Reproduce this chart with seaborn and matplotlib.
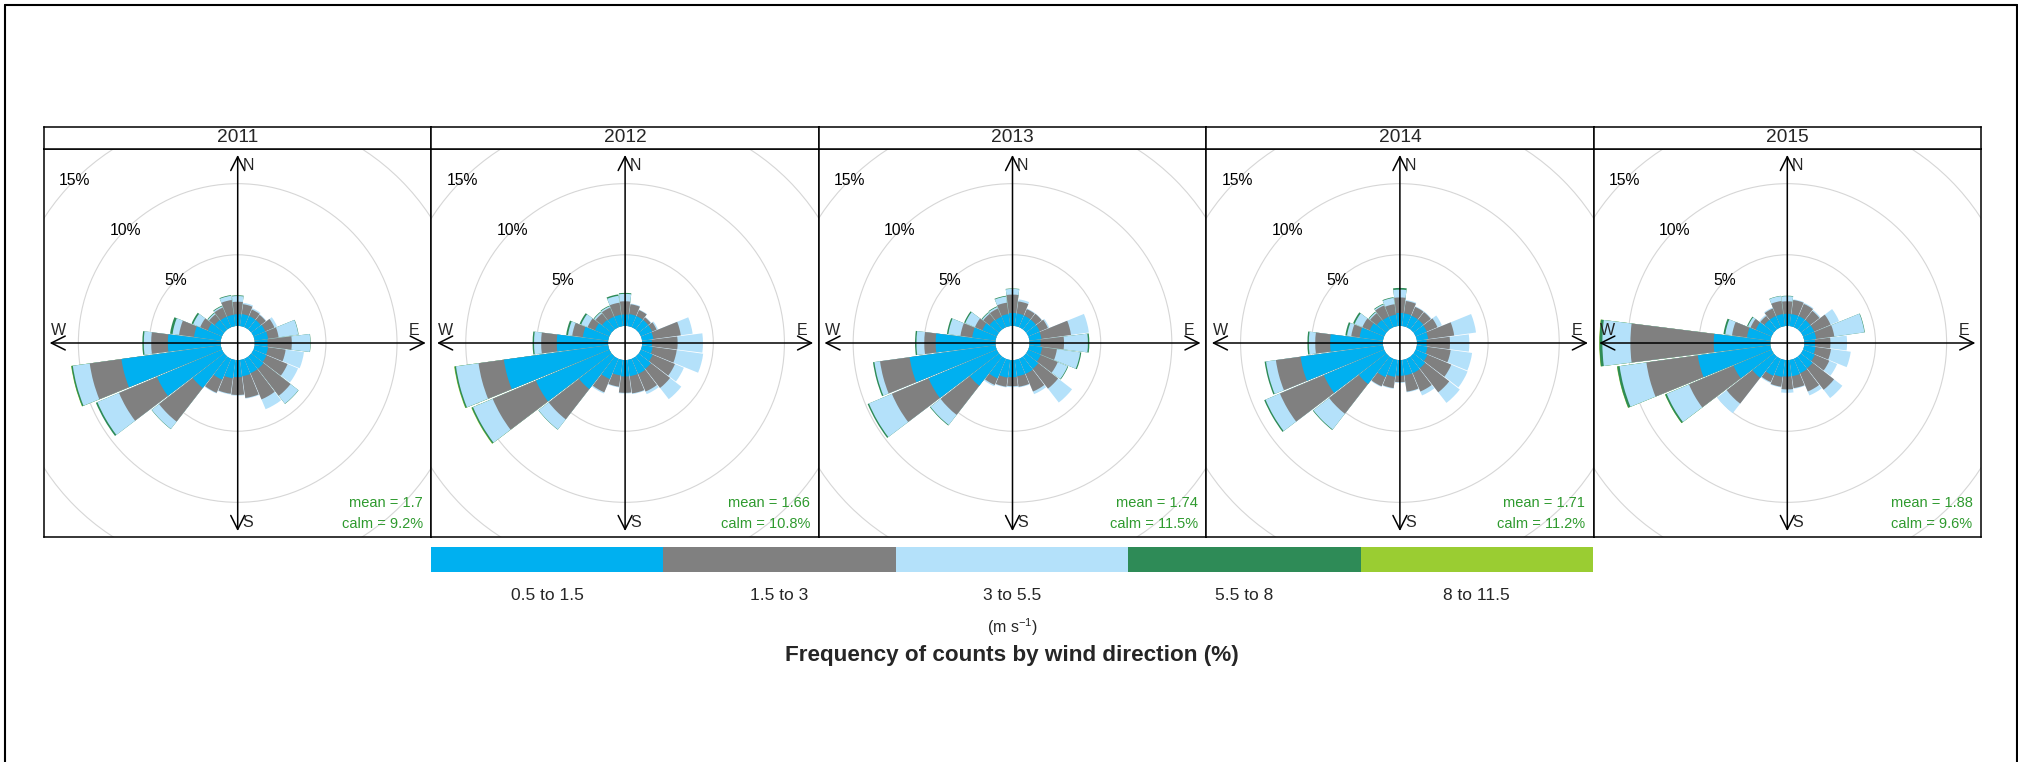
import numpy as np
import matplotlib
matplotlib.use("Agg")
import matplotlib.pyplot as plt
from matplotlib.patches import Wedge, Circle
from matplotlib.colors import ListedColormap
from matplotlib.lines import Line2D
import seaborn as sns

# ---------------------------------------------------------------- data
years = ["2011", "2012", "2013", "2014", "2015"]
directions = list(range(0, 360, 15))          # sector centres, degrees from north
speed_bins = ["0.5 to 1.5", "1.5 to 3", "3 to 5.5", "5.5 to 8", "8 to 11.5"]
mean_speed = ["1.7", "1.66", "1.74", "1.71", "1.88"]
calm_pct = ["9.2%", "10.8%", "11.5%", "11.2%", "9.6%"]
grid_levels = [5, 10, 15]

# frequency of counts (%) by direction, one list per speed bin
f2011_b1 = [0.82, 0.85, 0.85, 0.85, 0.90, 0.95, 0.90, 0.95, 1.00, 1.10, 1.10, 1.15, 1.20, 1.30, 1.60, 2.80, 4.95, 7.05, 3.71, 1.90, 1.08, 0.85, 0.80, 0.80]
f2011_b2 = [0.88, 0.70, 0.50, 0.45, 0.70, 0.75, 1.70, 1.25, 1.60, 2.40, 2.00, 1.55, 1.25, 1.10, 1.00, 3.00, 2.90, 2.25, 1.17, 1.06, 0.58, 0.50, 0.70, 1.05]
f2011_b3 = [0.40, 0.10, 0.10, 0.05, 0.20, 1.40, 1.30, 1.30, 0.80, 0.70, 0.75, 0.05, 0.05, 0.05, 0.05, 0.65, 1.65, 1.20, 0.52, 0.46, 0.54, 0.10, 0.10, 0.30]
f2011_b4 = [0.05, 0, 0, 0, 0, 0.02, 0.02, 0, 0, 0.02, 0, 0, 0, 0, 0, 0.02, 0.12, 0.10, 0.10, 0.18, 0.12, 0.05, 0.05, 0.05]
f2011_b5 = [0, 0, 0, 0, 0, 0, 0, 0, 0, 0, 0, 0, 0, 0, 0, 0, 0, 0.02, 0, 0, 0, 0, 0, 0]

f2012_b1 = [0.80, 0.85, 0.85, 0.85, 0.85, 0.80, 0.68, 0.75, 0.90, 1.10, 1.15, 1.15, 1.15, 1.10, 1.55, 2.90, 5.60, 7.40, 3.60, 1.80, 1.10, 0.85, 0.80, 0.80]
f2012_b2 = [0.93, 0.70, 0.46, 0.23, 0.35, 1.95, 1.81, 1.71, 1.70, 1.70, 1.35, 1.22, 1.15, 0.80, 1.01, 2.70, 3.30, 1.80, 1.10, 0.75, 0.56, 0.58, 0.70, 0.86]
f2012_b3 = [0.52, 0.05, 0.04, 0.04, 0.10, 0.84, 1.78, 1.88, 0.68, 1.00, 0.20, 0.05, 0.05, 0.05, 0.09, 0.90, 1.50, 1.60, 0.50, 0.30, 0.49, 0.12, 0.10, 0.49]
f2012_b4 = [0.07, 0, 0, 0, 0, 0, 0, 0, 0, 0, 0, 0, 0, 0, 0, 0.02, 0.10, 0.10, 0.10, 0.13, 0.12, 0.05, 0.05, 0.10]
f2012_b5 = [0, 0, 0, 0, 0, 0, 0, 0, 0, 0, 0, 0, 0, 0, 0, 0, 0.03, 0.03, 0, 0, 0, 0, 0, 0]

f2013_b1 = [0.91, 0.90, 0.88, 0.88, 0.88, 0.85, 0.77, 0.90, 0.95, 1.10, 1.15, 1.15, 1.20, 1.25, 1.50, 2.60, 5.20, 6.10, 4.20, 1.66, 1.10, 0.85, 0.80, 0.85]
f2013_b2 = [1.29, 0.85, 0.50, 0.52, 0.62, 2.10, 1.65, 1.05, 1.30, 1.76, 1.35, 0.75, 0.63, 0.65, 0.50, 2.60, 2.80, 2.10, 0.80, 0.83, 0.56, 0.55, 0.63, 0.81]
f2013_b3 = [0.40, 0.15, 0.05, 0.03, 0.10, 1.27, 1.68, 1.65, 0.75, 1.24, 0.20, 0.05, 0.07, 0.05, 0.10, 0.90, 1.75, 0.40, 0.55, 0.86, 0.74, 0.10, 0.12, 0.44]
f2013_b4 = [0.03, 0, 0, 0, 0, 0, 0.10, 0.08, 0.05, 0, 0, 0, 0, 0, 0, 0.05, 0.10, 0.10, 0.10, 0.10, 0.09, 0.05, 0.05, 0.05]
f2013_b5 = [0, 0, 0, 0, 0, 0, 0, 0, 0, 0, 0, 0, 0, 0, 0, 0, 0, 0, 0, 0, 0, 0, 0, 0]

f2014_b1 = [0.91, 0.90, 0.88, 0.88, 0.85, 0.80, 0.68, 0.75, 0.90, 1.05, 1.10, 1.10, 1.10, 1.20, 1.40, 2.45, 4.60, 5.85, 3.70, 1.66, 1.10, 0.85, 0.80, 0.80]
f2014_b2 = [1.09, 0.88, 0.67, 0.67, 0.81, 1.85, 1.64, 1.65, 1.82, 2.14, 1.40, 1.15, 0.45, 0.80, 0.70, 2.65, 3.35, 1.75, 1.05, 0.59, 0.56, 0.60, 0.86, 0.75]
f2014_b3 = [0.55, 0.07, 0.05, 0.05, 0.34, 1.55, 1.36, 1.52, 1.24, 0.94, 0.30, 0.05, 0.05, 0.05, 0.05, 1.40, 1.10, 0.70, 0.45, 0.30, 0.59, 0.10, 0.09, 0.45]
f2014_b4 = [0.12, 0, 0, 0, 0, 0, 0, 0, 0, 0, 0, 0, 0, 0, 0, 0.05, 0.10, 0.10, 0.10, 0.12, 0.12, 0.05, 0.05, 0.05]
f2014_b5 = [0, 0, 0, 0, 0, 0, 0, 0, 0, 0, 0, 0, 0, 0, 0, 0, 0, 0, 0, 0, 0, 0, 0, 0]

f2015_b1 = [0.85, 0.85, 0.85, 0.85, 0.85, 0.85, 0.75, 0.80, 0.90, 1.05, 1.10, 1.15, 1.15, 1.20, 1.30, 1.90, 2.90, 5.15, 3.97, 1.66, 1.20, 0.85, 0.85, 0.85]
f2015_b2 = [0.88, 1.00, 0.93, 0.81, 1.25, 1.28, 1.08, 1.10, 1.10, 1.91, 1.40, 0.85, 0.91, 0.70, 0.48, 2.30, 3.40, 3.65, 5.86, 1.06, 0.40, 0.35, 0.58, 0.93]
f2015_b3 = [0.36, 0.05, 0.07, 0.09, 0.65, 2.14, 1.17, 1.40, 0.60, 0.74, 0.30, 0.05, 0.24, 0.05, 0.07, 0.85, 1.70, 1.90, 1.97, 0.48, 0.20, 0.10, 0.07, 0.35]
f2015_b4 = [0.03, 0, 0, 0, 0, 0.03, 0, 0, 0, 0, 0, 0, 0, 0, 0, 0, 0.12, 0.17, 0.20, 0.13, 0.07, 0, 0, 0.02]
f2015_b5 = [0, 0, 0, 0, 0, 0, 0, 0, 0, 0, 0, 0, 0, 0, 0, 0, 0.01, 0.02, 0.02, 0, 0, 0, 0, 0]

freq = {
    "2011": [f2011_b1, f2011_b2, f2011_b3, f2011_b4, f2011_b5],
    "2012": [f2012_b1, f2012_b2, f2012_b3, f2012_b4, f2012_b5],
    "2013": [f2013_b1, f2013_b2, f2013_b3, f2013_b4, f2013_b5],
    "2014": [f2014_b1, f2014_b2, f2014_b3, f2014_b4, f2014_b5],
    "2015": [f2015_b1, f2015_b2, f2015_b3, f2015_b4, f2015_b5],
}

# ---------------------------------------------------------------- style
sns.set_theme(style="white")
plt.rcParams["font.family"] = ["Liberation Sans", "DejaVu Sans"]
plt.rcParams["mathtext.default"] = "regular"
colors = sns.color_palette(["#00B0F0", "#808080", "#B4E1FA", "#2E8B57", "#9ACD32"])

W, H = 2018, 762
fig = plt.figure(figsize=(W / 100, H / 100), dpi=100)
fig.patch.set_facecolor("white")

# outer frame (left, top, right)
fx0, fx1, fy = 4.5 / W, 2016.5 / W, 1 - 5 / H
for xs, ys in [([fx0, fx0], [0, fy]), ([fx0, fx1], [fy, fy]), ([fx1, fx1], [0, fy])]:
    fig.add_artist(Line2D(xs, ys, color="black", lw=1.5, transform=fig.transFigure))

# common radial scale: hole offset and limits from the largest sector total
totals = [np.sum(freq[y], axis=0) for y in years]
max_total = max(t.max() for t in totals)
off = 0.1 * max_total
r_arrow = max_total + off
lim = 1.03 * r_arrow

panel_left, panel_w = 44.0, 387.4
plot_top, plot_bottom, strip_top = 149.3, 536.7, 126.7
width_deg = 360 / len(directions)
gap_deg = 0.7

for i, year in enumerate(years):
    left = panel_left + i * panel_w
    ax = fig.add_axes([left / W, (H - plot_bottom) / H, panel_w / W, (plot_bottom - plot_top) / H])
    ax.set_xlim(-lim, lim)
    ax.set_ylim(-lim, lim)
    ax.set_xticks([])
    ax.set_yticks([])
    ax.set_facecolor("white")
    for sp in ax.spines.values():
        sp.set_visible(True)
        sp.set_color("black")
        sp.set_linewidth(1.1)
        sp.set_zorder(10)

    # reference circles
    for lev in grid_levels:
        ring = Circle((0, 0), lev + off, fill=False, ec="#d6d6d6", lw=0.8, zorder=1)
        ax.add_patch(ring)
        ring.set_clip_path(ax.patch)
        ring.set_clip_on(True)
        a = np.deg2rad(45)
        ax.text(-(lev + off) * np.sin(a), (lev + off) * np.cos(a), f"{lev}%",
                ha="center", va="center", fontsize=11.3, color="black", zorder=2)

    # stacked sectors, outermost bin first so inner bins overlay cleanly
    cum = np.cumsum(np.array(freq[year]), axis=0)
    for j, d in enumerate(directions):
        th_c = 90 - d
        t1 = th_c - width_deg / 2 + gap_deg / 2
        t2 = th_c + width_deg / 2 - gap_deg / 2
        for k in range(len(speed_bins) - 1, -1, -1):
            prev = cum[k - 1, j] if k > 0 else 0.0
            if cum[k, j] - prev <= 0:
                continue
            r_out = off + cum[k, j]
            wedge = Wedge((0, 0), r_out, t1, t2, width=cum[k, j],
                          facecolor=colors[k], edgecolor="none", lw=0, zorder=3)
            ax.add_patch(wedge)
            wedge.set_clip_path(ax.patch)

    # compass arrows
    arrow = dict(arrowstyle="<->,head_length=0.5,head_width=0.25", lw=1.1, color="black",
                 shrinkA=0, shrinkB=0, mutation_scale=20)
    ax.annotate("", xy=(r_arrow, 0), xytext=(-r_arrow, 0), arrowprops=arrow, zorder=5)
    ax.annotate("", xy=(0, r_arrow), xytext=(0, -r_arrow), arrowprops=arrow, zorder=5)
    ax.text(0.055 * r_arrow, 0.945 * r_arrow, "N", ha="center", va="center", fontsize=11.5, zorder=6)
    ax.text(0.055 * r_arrow, -0.955 * r_arrow, "S", ha="center", va="center", fontsize=11.5, zorder=6)
    ax.text(-0.955 * r_arrow, 0.065 * r_arrow, "W", ha="center", va="center", fontsize=11.5, zorder=6)
    ax.text(0.94 * r_arrow, 0.065 * r_arrow, "E", ha="center", va="center", fontsize=11.5, zorder=6)

    # summary statistics
    ax.text(0.978, 0.087, f"mean = {mean_speed[i]}", transform=ax.transAxes,
            ha="right", va="center", fontsize=10.5, color="#2e9a2e", zorder=6)
    ax.text(0.978, 0.033, f"calm = {calm_pct[i]}", transform=ax.transAxes,
            ha="right", va="center", fontsize=10.5, color="#2e9a2e", zorder=6)

    # strip with the year
    sax = fig.add_axes([left / W, (H - plot_top) / H, panel_w / W, (plot_top - strip_top) / H])
    sax.set_xticks([])
    sax.set_yticks([])
    sax.set_facecolor("white")
    for sp in sax.spines.values():
        sp.set_visible(True)
        sp.set_color("black")
        sp.set_linewidth(1.1)
    sax.text(0.5, 0.5, year, ha="center", va="center", fontsize=13.8, transform=sax.transAxes)

# ---------------------------------------------------------------- colour key
key_l, key_r, key_t, key_b = 431.0, 1593.0, 547.0, 571.5
kax = fig.add_axes([key_l / W, (H - key_b) / H, (key_r - key_l) / W, (key_b - key_t) / H])
sns.heatmap(np.arange(len(speed_bins))[None, :], cmap=ListedColormap(colors), cbar=False,
            xticklabels=False, yticklabels=False, linewidths=0, ax=kax)
kax.set_xlabel("")
kax.set_ylabel("")
seg = (key_r - key_l) / len(speed_bins)
for k, lab in enumerate(speed_bins):
    fig.text((key_l + seg * (k + 0.5)) / W, 1 - 595 / H, lab, ha="center", va="center", fontsize=12.5)
fig.text((key_l + key_r) / 2 / W, 1 - 627 / H, r"(m s$^{-1}$)", ha="center", va="center", fontsize=11.5)
fig.text((key_l + key_r) / 2 / W, 1 - 656 / H, "Frequency of counts by wind direction (%)",
         ha="center", va="center", fontsize=16.2, fontweight="bold")

fig.savefig("out.png", dpi=100, facecolor="white")
